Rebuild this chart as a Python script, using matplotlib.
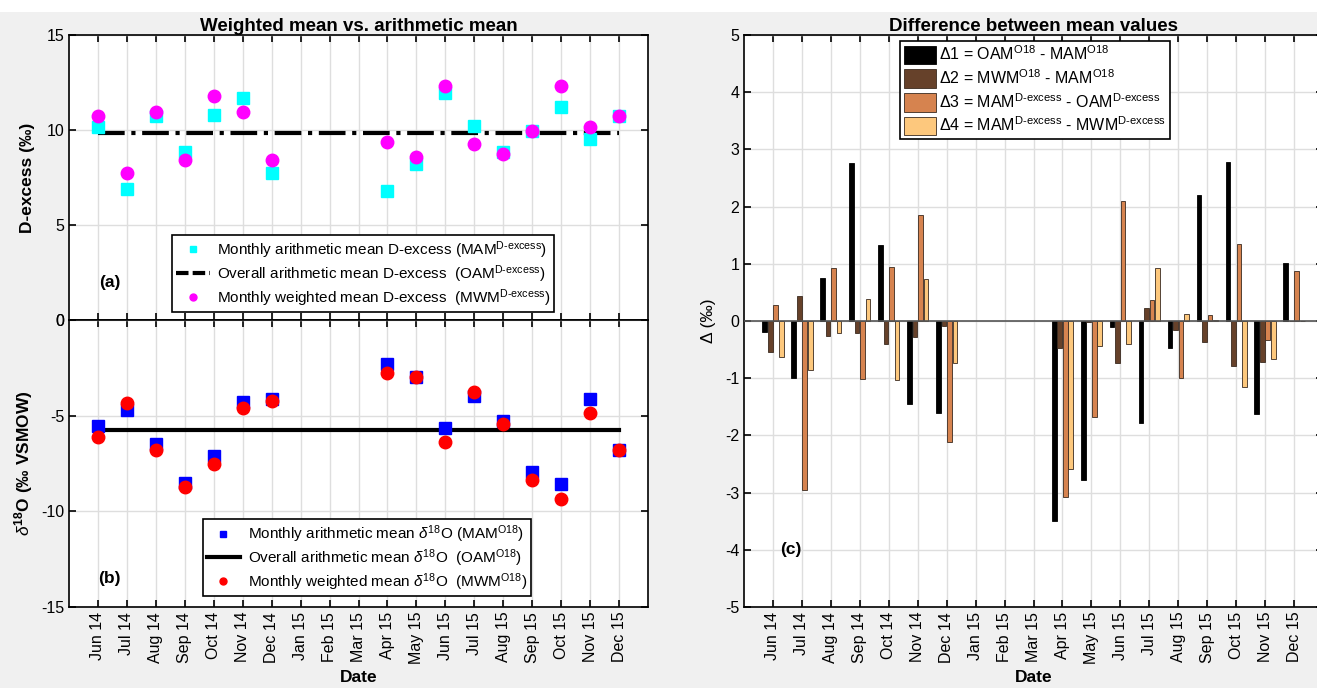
"""Weighted vs arithmetic monthly means of D-excess and d18O, plus differences."""

import numpy as np
import matplotlib
matplotlib.use("Agg")
import matplotlib.pyplot as plt
import matplotlib.patches as patches
from matplotlib.lines import Line2D

plt.rcParams['font.family'] = ['Liberation Sans', 'DejaVu Sans']
plt.rcParams['mathtext.fontset'] = 'custom'
plt.rcParams['mathtext.rm'] = 'Liberation Sans'
plt.rcParams['mathtext.it'] = 'Liberation Sans:italic'
plt.rcParams['mathtext.bf'] = 'Liberation Sans:bold'
plt.rcParams['axes.unicode_minus'] = False

# months Jun 14 .. Dec 15 (no data Jan-Mar 15)
months = ['Jun 14', 'Jul 14', 'Aug 14', 'Sep 14', 'Oct 14', 'Nov 14', 'Dec 14',
          'Jan 15', 'Feb 15', 'Mar 15', 'Apr 15', 'May 15', 'Jun 15', 'Jul 15',
          'Aug 15', 'Sep 15', 'Oct 15', 'Nov 15', 'Dec 15']
nan = np.nan

# panel (a): D-excess
mam_dex = [10.16, 6.89, 10.75, 8.85, 10.77, 11.70, 7.74, nan, nan, nan,
           6.77, 8.20, 11.96, 10.23, 8.86, 9.95, 11.19, 9.51, 10.73]
mwm_dex = [10.73, 7.74, 10.96, 8.43, 11.80, 10.96, 8.44, nan, nan, nan,
           9.35, 8.60, 12.34, 9.27, 8.74, 9.95, 12.33, 10.17, 10.72]
oam_dex = 9.84

# panel (b): d18O
mam_o18 = [-5.55, -4.71, -6.49, -8.52, -7.09, -4.29, -4.14, nan, nan, nan,
           -2.29, -3.00, -5.67, -3.96, -5.29, -7.92, -8.55, -4.15, -6.77]
mwm_o18 = [-6.14, -4.36, -6.79, -8.73, -7.51, -4.62, -4.24, nan, nan, nan,
           -2.76, -3.00, -6.40, -3.75, -5.46, -8.34, -9.34, -4.85, -6.77]
oam_o18 = -5.76

# panel (c): differences
d1 = [-0.19, -1.00, 0.76, 2.76, 1.32, -1.45, -1.61, nan, nan, nan,
      -3.50, -2.78, -0.10, -1.78, -0.48, 2.21, 2.78, -1.63, 1.02]
d2 = [-0.55, 0.43, -0.26, -0.21, -0.41, -0.28, -0.09, nan, nan, nan,
      -0.48, -0.02, -0.74, 0.23, -0.16, -0.37, -0.79, -0.72, 0.0]
d3 = [0.28, -2.95, 0.93, -1.02, 0.94, 1.86, -2.12, nan, nan, nan,
      -3.08, -1.67, 2.10, 0.36, -1.00, 0.10, 1.35, -0.33, 0.88]
d4 = [-0.63, -0.85, -0.21, 0.39, -1.04, 0.73, -0.73, nan, nan, nan,
      -2.59, -0.43, -0.41, 0.93, 0.12, 0.01, -1.15, -0.67, 0.0]
delta_labels = [r'Δ1 = OAM$^{\mathrm{O18}}$ - MAM$^{\mathrm{O18}}$',
                r'Δ2 = MWM$^{\mathrm{O18}}$ - MAM$^{\mathrm{O18}}$',
                r'Δ3 = MAM$^{\text{D-excess}}$ - OAM$^{\text{D-excess}}$',
                r'Δ4 = MAM$^{\text{D-excess}}$ - MWM$^{\text{D-excess}}$']
delta_colors = ['#000000', '#66412a', '#d6834f', '#fdc87d']

x = np.arange(len(months))
W, H = 1317, 688

fig = plt.figure(figsize=(W / 100, H / 100), dpi=100, facecolor='#f0f0f0')
fig.patches.append(patches.Rectangle((0, 1 - 12 / H), 1, 12 / H, transform=fig.transFigure,
                                     facecolor='white', edgecolor='none', zorder=-1))


def px_axes(left, top, right, bottom):
    return fig.add_axes([left / W, 1 - bottom / H, (right - left) / W, (bottom - top) / H])


def style(ax):
    ax.set_xlim(-1, 19)
    ax.set_xticks(x)
    ax.grid(True, color='#dedede', linewidth=1)
    ax.set_axisbelow(True)
    ax.tick_params(direction='in', top=True, right=True, length=5, width=1.2,
                   labelsize=11.5, colors='black')
    for s in ax.spines.values():
        s.set_linewidth(1.2)


def box_legend(ax, handles, labels, anchor, loc='lower left', **kw):
    leg = ax.legend(handles, labels, loc=loc, bbox_to_anchor=anchor,
                    fancybox=False, edgecolor='black', framealpha=1, **kw)
    leg.get_frame().set_linewidth(1.2)
    return leg


# ---- (a) D-excess
ax_a = px_axes(69, 35, 648, 320)
style(ax_a)
ax_a.plot(x, mam_dex, 's', color='cyan', ms=8, zorder=3)
ax_a.plot([x[0], x[-1]], [oam_dex, oam_dex], '-.', color='black', lw=3, zorder=2)
ax_a.plot(x, mwm_dex, 'o', color='magenta', ms=9, zorder=4)
ax_a.set_ylim(0, 15)
ax_a.set_yticks([0, 5, 10, 15])
ax_a.set_xticklabels([])
ax_a.set_ylabel('D-excess (‰)', fontsize=12.5, fontweight='bold', labelpad=8)
ax_a.set_title('Weighted mean vs. arithmetic mean', fontsize=13.5, fontweight='bold', pad=3)
ax_a.text(0.07, 0.13, '(a)', transform=ax_a.transAxes, fontsize=12.5, fontweight='bold',
          ha='center', va='center')
h_a = [Line2D([], [], marker='s', ls='none', color='cyan', ms=4),
       Line2D([], [], ls='--', color='black', lw=3, dashes=(3, 1)),
       Line2D([], [], marker='o', ls='none', color='magenta', ms=5)]
l_a = [r'Monthly arithmetic mean D-excess (MAM$^{\text{D-excess}}$)',
       r'Overall arithmetic mean D-excess  (OAM$^{\text{D-excess}}$)',
       r'Monthly weighted mean D-excess  (MWM$^{\text{D-excess}}$)']
box_legend(ax_a, h_a, l_a, (0.165, 0.0), fontsize=11, handlelength=2.2,
           handletextpad=0.5, borderpad=0.25, labelspacing=0.15)

# ---- (b) d18O
ax_b = px_axes(69, 320, 648, 607)
style(ax_b)
ax_b.plot(x, mam_o18, 's', color='blue', ms=8, zorder=3)
ax_b.plot([x[0], x[-1]], [oam_o18, oam_o18], '-', color='black', lw=3, zorder=2)
ax_b.plot(x, mwm_o18, 'o', color='red', ms=9, zorder=4)
ax_b.set_ylim(-15, 0)
ax_b.set_yticks([-15, -10, -5, 0])
ax_b.set_xticklabels(months, rotation=90)
ax_b.set_ylabel(r'$\mathit{\delta}^{\mathbf{18}}$O (‰ VSMOW)', fontsize=12.5,
                fontweight='bold', labelpad=4)
ax_b.set_xlabel('Date', fontsize=12.5, fontweight='bold', labelpad=4)
ax_b.text(0.07, 0.1, '(b)', transform=ax_b.transAxes, fontsize=12.5, fontweight='bold',
          ha='center', va='center')
h_b = [Line2D([], [], marker='s', ls='none', color='blue', ms=4),
       Line2D([], [], ls='-', color='black', lw=3),
       Line2D([], [], marker='o', ls='none', color='red', ms=5)]
l_b = [r'Monthly arithmetic mean $\delta^{\mathrm{18}}$O (MAM$^{\mathrm{O18}}$)',
       r'Overall arithmetic mean $\delta^{\mathrm{18}}$O  (OAM$^{\mathrm{O18}}$)',
       r'Monthly weighted mean $\delta^{\mathrm{18}}$O  (MWM$^{\mathrm{O18}}$)']
box_legend(ax_b, h_b, l_b, (0.218, 0.01), fontsize=11, handlelength=2.2,
           handletextpad=0.5, borderpad=0.25, labelspacing=0.15)

# ---- (c) differences
ax_c = px_axes(744, 35, 1323, 607)
style(ax_c)
bw = 0.165
for i, (vals, col) in enumerate(zip([d1, d2, d3, d4], delta_colors)):
    ax_c.bar(x + (i - 1.5) * 0.19, vals, width=bw, color=col,
             edgecolor='black' if i == 0 else '#3a2a20', linewidth=0.6,
             label=delta_labels[i], zorder=3)
ax_c.axhline(0, color='#555555', lw=1.2, zorder=4)
ax_c.set_ylim(-5, 5)
ax_c.set_yticks(np.arange(-5, 6))
ax_c.set_xticklabels(months, rotation=90)
ax_c.set_ylabel('Δ (‰)', fontsize=12.5, labelpad=6)
ax_c.set_xlabel('Date', fontsize=12.5, fontweight='bold', labelpad=4)
ax_c.set_title('Difference between mean values', fontsize=13.5, fontweight='bold', pad=3)
ax_c.text(0.08, 0.1, '(c)', transform=ax_c.transAxes, fontsize=12.5, fontweight='bold',
          ha='center', va='center')
hc, lc = ax_c.get_legend_handles_labels()
box_legend(ax_c, hc, lc, (0.27, 0.99), loc='upper left', fontsize=11.5, handlelength=2.0,
           handleheight=1.4, handletextpad=0.2, borderpad=0.25, labelspacing=0.25,
           borderaxespad=0)

fig.savefig('out.png', dpi=100, facecolor=fig.get_facecolor())
